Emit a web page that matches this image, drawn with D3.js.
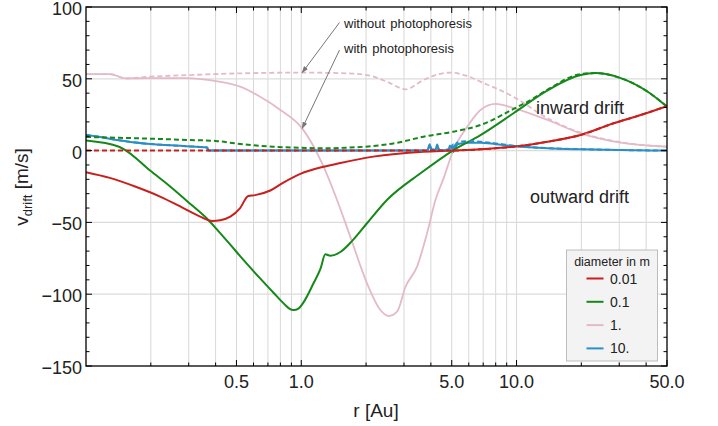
<!DOCTYPE html>
<html><head><meta charset="utf-8">
<script src="https://cdn.jsdelivr.net/npm/d3@7"></script>
<style>body{margin:0;background:#fff}svg{display:block;font-family:"Liberation Sans",Arial,sans-serif}</style>
</head><body><svg id="c" width="718" height="426"></svg>
<script>
// ---- data ----
const xMajorTicks = [0.5, 1, 5, 10, 50];
const xTickLabels = ["0.5", "1.0", "5.0", "10.0", "50.0"];
const yTicks = [-150, -100, -50, 0, 50, 100];
const yTickLabels = ["\u2212150", "\u2212100", "\u221250", "0", "50", "100"];
const legendLabels = ["0.01", "0.1", "1.", "10."];

const redWithR = [0.1, 0.129, 0.169, 0.221, 0.283, 0.339, 0.386, 0.42, 0.468, 0.52, 0.567, 0.611, 0.718, 0.826, 0.99, 1.27, 1.52, 2.16, 3.69, 4.93, 6.8, 9.68, 13.94, 19.85, 28.25, 37.73, 50];
const redWithV = [-15, -19, -25, -32, -40, -46, -49, -48.5, -46, -40, -31.6, -31, -27.8, -22.3, -16.2, -11.2, -8.6, -4.2, -0.8, 0, 0.9, 2.7, 6.2, 10.9, 19, 24.8, 31];
const redWithoutR = [0.1, 4.93, 6.8, 9.68, 13.94, 19.85, 28.25, 37.73, 50];
const redWithoutV = [0, 0, 0.9, 2.7, 6.2, 10.9, 19, 24.8, 31];

const greenWithR = [0.1, 0.1424, 0.1535, 0.1985, 0.2459, 0.3046, 0.3654, 0.42, 0.468, 0.52, 0.644, 0.743, 0.842, 0.88, 0.922, 0.97, 1.026, 1.14, 1.23, 1.293, 1.364, 1.519, 1.72, 2.02, 2.5, 3.58, 5.1, 6.8, 9.68, 13.94, 19.85, 23.3, 30.46, 40.7, 50];
const greenWithV = [7, 2.7, 0, -13.9, -25, -37, -47.5, -57.5, -65.5, -73.5, -89, -99, -107.5, -110, -111, -110, -105.5, -92.4, -82, -72.2, -73.2, -70.6, -63, -50.6, -34.4, -15.8, 0.4, 10.8, 26, 42, 52.6, 54, 50.5, 41, 30.6];
const greenWithoutR = [0.1, 0.1985, 0.3, 0.4, 0.52, 0.74, 1.0, 1.27, 1.6, 2.16, 2.8, 3.69, 5.09, 6.8, 9.68, 11.62, 13.94, 19.85, 23.3, 30.46, 40.7, 50];
const greenWithoutV = [9.5, 8.3, 7.4, 6.7, 4.6, 2.7, 2.0, 1.6, 2.0, 3.2, 5.5, 9.7, 13.2, 17.8, 29, 35.2, 42.5, 53.3, 54, 50.5, 41, 30.6];

const pinkWithR = [0.1, 0.129, 0.1535, 0.2, 0.29, 0.415, 0.52, 0.644, 0.8, 1.01, 1.27, 1.466, 1.69, 2.02, 2.33, 2.55, 2.79, 3.05, 3.45, 3.84, 4.2, 4.59, 5.09, 5.9, 6.8, 8.0, 9.68, 13.94, 19.85, 30.46, 50];
const pinkWithV = [53.3, 53.3, 50.3, 50.5, 50.5, 48, 44.5, 37.5, 28.3, 15.5, -11.2, -34.4, -60, -92.4, -111, -115.2, -112, -94.8, -80.8, -57.6, -34.4, -19, 0.4, 16.6, 28.3, 32.5, 29.6, 21.3, 12, 5.5, 2.7];
const pinkWithoutR = [0.1, 0.129, 0.1535, 0.2, 0.3, 0.52, 1.0, 1.5, 2.02, 2.5, 3.05, 3.7, 4.2, 4.9, 5.9, 6.8, 9.68, 13.94, 19.85, 30.46, 50];
const pinkWithoutV = [53.3, 53.3, 50.3, 51.5, 52.6, 53.8, 54.3, 54, 52.6, 48, 42.7, 49.2, 52.6, 54.3, 52, 48, 37.5, 22.5, 12.5, 5.8, 2.7];

const blueWithR = [0.1, 0.1162, 0.139, 0.1985, 0.283, 0.3654, 0.3705, 3.85, 3.95, 4.02, 4.1, 4.2, 4.28, 4.36, 4.6, 4.84, 4.9, 4.97, 5.03, 5.1, 5.16, 5.22, 5.3, 5.5, 6.0, 6.8, 8.0, 9.68, 13.94, 19.85, 30.46, 50];
const blueWithV = [10.9, 9.5, 7.4, 4.6, 3.2, 2.1, 0, 0, 4.5, 0.3, 1.0, 0.3, 4.3, 0.3, 0.2, 1.0, 3.5, 1.5, 3.8, -1.0, 3.5, 2.5, 4.2, 5.0, 5.5, 5.5, 4.5, 3.2, 1.6, 0.9, 0.4, 0];
const blueWithoutR = [0.1, 0.1162, 0.139, 0.1985, 0.283, 0.3654, 0.3705, 3.85, 3.97, 4.05, 4.25, 4.3, 4.38, 4.84, 4.92, 5.0, 5.08, 5.15, 5.25, 5.5, 6.0, 6.8, 8.0, 9.68, 13.94, 19.85, 30.46, 50];
const blueWithoutV = [10.9, 9.5, 7.4, 4.6, 3.2, 2.1, 0, 0, 3.8, 0.2, 0.2, 3.6, 0.2, 0.8, 3.0, 2.2, 4.2, 2.8, 5.0, 6.3, 6.5, 6.2, 5.0, 3.4, 1.7, 1.0, 0.4, 0];

// ---- layout ----
const L = 86, R = 667, T = 7, B = 366;
const svg = d3.select("#c");
const x = d3.scaleLog().domain([0.1, 50]).range([L, R]);
const y = d3.scaleLinear().domain([-150, 100]).range([B, T]);

const colors = {red: "#c8201c", green: "#16881a", pink: "#e4b9c8", blue: "#2b8fc6"};

const gridX = [];
[0.1, 1, 10].forEach(d => { for (let k = 1; k <= 9; k++) { const v = d * k; if (v > 0.1 && v <= 50) gridX.push(v); } });

const g = svg.append("g");
g.selectAll("line.gx").data(gridX.filter(v => v < 50)).join("line")
  .attr("x1", d => x(d)).attr("x2", d => x(d)).attr("y1", T).attr("y2", B)
  .attr("stroke", "#d8d8d8").attr("stroke-width", 1);
g.selectAll("line.gy").data([-100, -50, 0, 50]).join("line")
  .attr("x1", L).attr("x2", R).attr("y1", d => y(d)).attr("y2", d => y(d))
  .attr("stroke", "#dcdcdc").attr("stroke-width", 1.3);

const line = d3.line().x(d => x(d[0])).y(d => y(d[1])).curve(d3.curveMonotoneX);
const zip = (a, b) => a.map((r, i) => [r, b[i]]);
const series = [
  {r: pinkWithR, v: pinkWithV, c: colors.pink, dash: null, w: 1.8},
  {r: blueWithR, v: blueWithV, c: colors.blue, dash: null, w: 2},
  {r: greenWithR, v: greenWithV, c: colors.green, dash: null, w: 2},
  {r: redWithR, v: redWithV, c: colors.red, dash: null, w: 2},
  {r: pinkWithoutR, v: pinkWithoutV, c: colors.pink, dash: "5,3", w: 1.8},
  {r: blueWithoutR, v: blueWithoutV, c: colors.blue, dash: "5,3", w: 2},
  {r: greenWithoutR, v: greenWithoutV, c: colors.green, dash: "5,3", w: 2},
  {r: redWithoutR, v: redWithoutV, c: colors.red, dash: "5,3", w: 2}
];
svg.append("clipPath").attr("id", "pc").append("rect").attr("x", L).attr("y", T).attr("width", R - L).attr("height", B - T);
const cg = svg.append("g").attr("clip-path", "url(#pc)");
series.forEach(s => {
  cg.append("path").attr("d", line(zip(s.r, s.v))).attr("fill", "none")
    .attr("stroke", s.c).attr("stroke-width", s.w)
    .attr("stroke-dasharray", s.dash).attr("stroke-linejoin", "round");
});

svg.append("rect").attr("x", L).attr("y", T).attr("width", R - L).attr("height", B - T)
  .attr("fill", "none").attr("stroke", "#000").attr("stroke-width", 1.3);

const tk = svg.append("g").attr("stroke", "#000").attr("stroke-width", 1);
gridX.forEach(v => {
  const len = xMajorTicks.includes(v) ? 6 : 3.5;
  tk.append("line").attr("x1", x(v)).attr("x2", x(v)).attr("y1", B).attr("y2", B - len);
  tk.append("line").attr("x1", x(v)).attr("x2", x(v)).attr("y1", T).attr("y2", T + len);
});
d3.range(-150, 101, 10).forEach(v => {
  const len = yTicks.includes(v) ? 6 : 3.5;
  tk.append("line").attr("x1", L).attr("x2", L + len).attr("y1", y(v)).attr("y2", y(v));
  tk.append("line").attr("x1", R).attr("x2", R - len).attr("y1", y(v)).attr("y2", y(v));
});

svg.selectAll("text.xl").data(xMajorTicks).join("text")
  .attr("x", d => x(d)).attr("y", 388).attr("text-anchor", "middle")
  .attr("font-size", 18).attr("fill", "#222").text((d, i) => xTickLabels[i]);
svg.selectAll("text.yl").data(yTicks).join("text")
  .attr("x", 82).attr("y", d => y(d) + 8).attr("text-anchor", "end")
  .attr("font-size", 18).attr("fill", "#222").text((d, i) => yTickLabels[i]);

svg.append("text").attr("x", 376).attr("y", 417).attr("text-anchor", "middle")
  .attr("font-size", 19).attr("fill", "#222").text("r [Au]");
const yt = svg.append("text").attr("transform", "translate(28,187) rotate(-90)")
  .attr("text-anchor", "middle").attr("font-size", 19).attr("fill", "#222");
yt.append("tspan").text("v");
yt.append("tspan").attr("font-size", 13).attr("dy", 4).text("drift");
yt.append("tspan").attr("dy", -4).text(" [m/s]");

const defs = svg.append("defs");
defs.append("marker").attr("id", "ah").attr("viewBox", "0 0 10 10").attr("refX", 9).attr("refY", 5)
  .attr("markerWidth", 7).attr("markerHeight", 7).attr("orient", "auto")
  .append("path").attr("d", "M0,1.5 L10,5 L0,8.5 z").attr("fill", "#777");
svg.append("line").attr("x1", 339.5).attr("y1", 22.5).attr("x2", x(1.01)).attr("y2", y(54.3))
  .attr("stroke", "#777").attr("stroke-width", 1).attr("marker-end", "url(#ah)");
svg.append("line").attr("x1", 339.5).attr("y1", 50).attr("x2", x(1.01)).attr("y2", y(15.5))
  .attr("stroke", "#777").attr("stroke-width", 1).attr("marker-end", "url(#ah)");
svg.append("text").attr("x", 344).attr("y", 28).attr("font-size", 13).attr("fill", "#222")
  .attr("word-spacing", 1.5).text("without photophoresis");
svg.append("text").attr("x", 344).attr("y", 53).attr("font-size", 13).attr("fill", "#222")
  .attr("word-spacing", 1.5).text("with photophoresis");
svg.append("text").attr("x", 536).attr("y", 114).attr("font-size", 18).attr("fill", "#222").text("inward drift");
svg.append("text").attr("x", 530).attr("y", 203).attr("font-size", 18).attr("fill", "#222").text("outward drift");

const lg = svg.append("g");
lg.append("rect").attr("x", 566.5).attr("y", 250).attr("width", 91).attr("height", 111)
  .attr("fill", "#f3f3f3").attr("stroke", "#bdbdbd").attr("stroke-width", 1);
lg.append("text").attr("x", 612).attr("y", 266).attr("text-anchor", "middle").attr("font-size", 12.5)
  .attr("fill", "#222").text("diameter in m");
const legColors = [colors.red, colors.green, colors.pink, colors.blue];
legendLabels.forEach((lab, i) => {
  const yy = 278.5 + i * 23.3;
  lg.append("line").attr("x1", 586.5).attr("x2", 603.5).attr("y1", yy).attr("y2", yy)
    .attr("stroke", legColors[i]).attr("stroke-width", 2);
  lg.append("text").attr("x", 610).attr("y", yy + 5).attr("font-size", 14).attr("fill", "#222").text(lab);
});
</script></body></html>
